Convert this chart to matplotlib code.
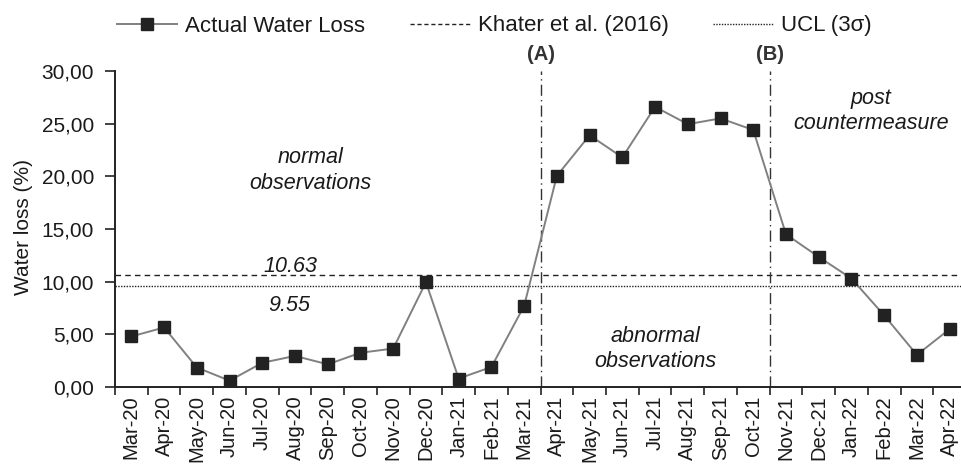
import matplotlib
matplotlib.use("Agg")
import matplotlib.pyplot as plt
from matplotlib.ticker import FixedLocator, FuncFormatter, NullFormatter
from matplotlib.lines import Line2D

plt.rcParams['font.family'] = ['Liberation Sans', 'DejaVu Sans']

months = ["Mar-20", "Apr-20", "May-20", "Jun-20", "Jul-20", "Aug-20", "Sep-20",
          "Oct-20", "Nov-20", "Dec-20", "Jan-21", "Feb-21", "Mar-21", "Apr-21",
          "May-21", "Jun-21", "Jul-21", "Aug-21", "Sep-21", "Oct-21", "Nov-21",
          "Dec-21", "Jan-22", "Feb-22", "Mar-22", "Apr-22"]
water_loss = [4.8, 5.65, 1.85, 0.6, 2.3, 2.95, 2.15, 3.25, 3.65, 9.95, 0.8,
              1.9, 7.7, 20.05, 23.9, 21.8, 26.6, 24.95, 25.5, 24.4, 14.5,
              12.35, 10.3, 6.8, 3.05, 5.5]
khater = 10.63
ucl = 9.55
event_a = 12.5
event_b = 19.5

W, H = 961, 466
fig = plt.figure(figsize=(W / 100, H / 100), dpi=100)
ax = fig.add_axes([115 / W, 1 - 387 / H, (966 - 115) / W, (387 - 71) / H])

x = list(range(len(months)))
txt = '#1a1a1a'

ax.axhline(khater, color='#222222', lw=1.0, ls=(0, (4, 3)), zorder=1)
ax.axhline(ucl, color='#222222', lw=1.0, ls=(0, (1, 1)), zorder=1)
ax.axvline(event_a, color='#333333', lw=1.0, ls=(0, (8, 3, 1, 3)), zorder=1)
ax.axvline(event_b, color='#333333', lw=1.0, ls=(0, (8, 3, 1, 3)), zorder=1)

ax.plot(x, water_loss, color='#808080', lw=1.4, marker='s', ms=8.7,
        mfc='#222222', mec='#222222', zorder=3)

ax.set_xlim(-0.5, len(months) - 0.5)
ax.set_ylim(0, 30)

ax.xaxis.set_major_locator(FixedLocator([i - 0.5 for i in range(len(months) + 1)]))
ax.xaxis.set_major_formatter(NullFormatter())
ax.set_xticks(x, months, minor=True, rotation=90, fontsize=14.5, color=txt)
ax.tick_params(axis='x', which='major', length=6, width=1.2, direction='out', color='#222222')
ax.tick_params(axis='x', which='minor', length=0, pad=6)

ax.set_yticks([0, 5, 10, 15, 20, 25, 30])
ax.yaxis.set_major_formatter(FuncFormatter(lambda v, p: f"{v:.2f}".replace('.', ',')))
ax.tick_params(axis='y', length=7, width=1.2, direction='out', labelsize=15,
               labelcolor=txt, color='#222222', pad=8)

for s in ['top', 'right']:
    ax.spines[s].set_visible(False)
for s in ['left', 'bottom']:
    ax.spines[s].set_linewidth(1.4)
    ax.spines[s].set_color('#222222')

ax.set_ylabel("Water loss (%)", fontsize=15, color=txt)
ax.yaxis.set_label_coords(-0.096, 0.506)

ax.text(4.85, 11.45, "10.63", fontsize=15.5, style='italic', ha='center', va='center', color=txt)
ax.text(4.82, 7.7, "9.55", fontsize=15.5, style='italic', ha='center', va='center', color=txt)
ax.text(5.46, 20.55, "normal\nobservations", fontsize=15.5, style='italic', ha='center',
        va='center', color=txt, linespacing=1.3)
ax.text(16.0, 3.6, "abnormal\nobservations", fontsize=15.5, style='italic', ha='center',
        va='center', color=txt, linespacing=1.3)
ax.text(22.6, 26.2, "post\ncountermeasure", fontsize=15.5, style='italic', ha='center',
        va='center', color=txt, linespacing=1.3)

ax.text(event_a, 31.6, "(A)", fontsize=14.5, fontweight='bold', ha='center', va='center',
        color='#333333', clip_on=False)
ax.text(event_b, 31.6, "(B)", fontsize=14.5, fontweight='bold', ha='center', va='center',
        color='#333333', clip_on=False)

h1 = Line2D([], [], color='#808080', lw=1.4, marker='s', ms=8.7, mfc='#222222', mec='#222222')
h2 = Line2D([], [], color='#222222', lw=1.0, ls=(0, (3, 2)))
h3 = Line2D([], [], color='#222222', lw=1.0, ls=(0, (1, 1)))
fig.legend([h1, h2, h3], ["Actual Water Loss", "Khater et al. (2016)", "UCL (3σ)"],
           loc='center', bbox_to_anchor=(494.5 / W, 1 - 26 / H), ncol=3, frameon=False,
           fontsize=16, handlelength=2.7, handletextpad=0.36, columnspacing=2.0,
           borderpad=0, labelcolor=txt)

fig.savefig("out.png", dpi=100)
